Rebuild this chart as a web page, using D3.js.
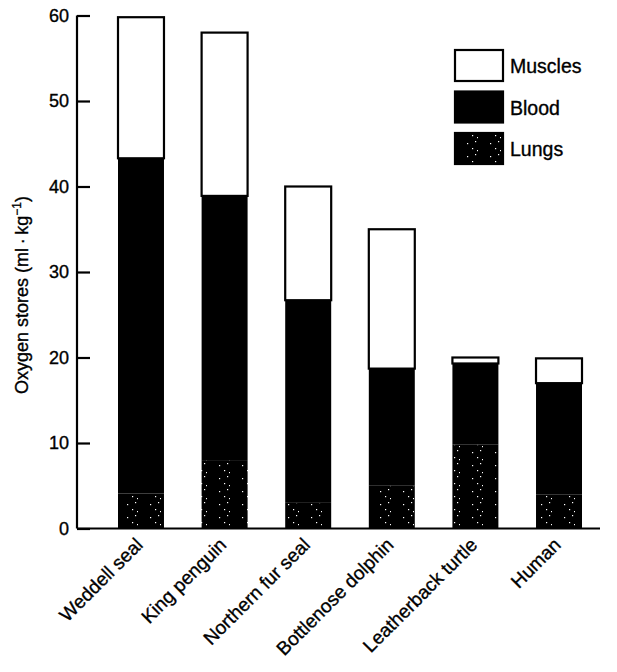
<!DOCTYPE html>
<html><head><meta charset="utf-8">
<script src="https://cdn.jsdelivr.net/npm/d3@7"></script>
<style>body{margin:0;background:#fff}svg{display:block}text{font-family:"Liberation Sans",Arial,Helvetica,sans-serif;fill:#000;stroke:#000;stroke-width:0.35px}</style>
</head><body><div id="chart"></div>
<script>
const categories = ["Weddell seal","King penguin","Northern fur seal","Bottlenose dolphin","Leatherback turtle","Human"];
const lungs   = [4.1, 8.0, 3.0, 5.0, 9.8, 4.0];
const blood   = [39.2, 30.9, 23.7, 13.7, 9.5, 13.0];
const muscles = [16.5, 19.1, 13.3, 16.3, 0.7, 2.9];
const seriesNames = ["Lungs","Blood","Muscles"];
const yTicks = [0,10,20,30,40,50,60];

const W = 617, H = 672;
const svg = d3.select("#chart").append("svg").attr("width", W).attr("height", H);
const defs = svg.append("defs");
const pat = defs.append("pattern").attr("id","dots").attr("patternUnits","userSpaceOnUse")
  .attr("width",23).attr("height",13);
pat.append("rect").attr("width",23).attr("height",13).attr("fill","#000");
[[17,2],[20,8],[12,10],[22,4]].forEach(([cx,cy])=>pat.append("rect").attr("x",cx).attr("y",cy).attr("width",1.2).attr("height",1.2).attr("fill","#fff"));

const x = d3.scaleBand().domain(categories).range([118, 582]).paddingInner(0.45).paddingOuter(0);
const y = d3.scaleLinear().domain([0, 60]).range([528.5, 15.5]);

const data = categories.map((c,i)=>({cat:c, Lungs:lungs[i], Blood:blood[i], Muscles:muscles[i]}));
const stacked = d3.stack().keys(seriesNames)(data);
const fills = {Lungs:"url(#dots)", Blood:"#000", Muscles:"#fff"};

stacked.forEach(layer=>{
  svg.append("g").selectAll("rect").data(layer).join("rect")
    .attr("x", d=>x(d.data.cat))
    .attr("y", d=>y(d[1]))
    .attr("width", x.bandwidth())
    .attr("height", d=>y(d[0])-y(d[1]))
    .attr("fill", fills[layer.key])
    .attr("stroke", layer.key==="Muscles" ? "#000" : "none")
    .attr("stroke-width", 2.2);
});

// Y axis
const yAxis = d3.axisRight(y).tickValues(yTicks).tickSize(13).tickFormat("");
const gy = svg.append("g").attr("transform","translate(77,0)").call(yAxis);
gy.select(".domain").attr("d", `M0,${y(60)}V${y(0)}`).attr("stroke","#000").attr("stroke-width",2.2);
gy.selectAll(".tick line").attr("stroke","#000").attr("stroke-width",2.2);
svg.append("g").selectAll("text").data(yTicks).join("text")
  .attr("x", 69).attr("y", d=>y(d)).attr("dy","0.36em")
  .attr("text-anchor","end").attr("font-size",18).text(d=>d);

// baseline
svg.append("line").attr("x1",77).attr("x2",600).attr("y1",y(0)).attr("y2",y(0))
  .attr("stroke","#000").attr("stroke-width",2.2);

// X labels
svg.append("g").selectAll("text").data(categories).join("text")
  .attr("text-anchor","end").attr("font-size",19)
  .attr("transform", d=>`translate(${x(d)+x.bandwidth()/2+3},546) rotate(-45)`)
  .text(d=>d);

// Y label
svg.append("text").attr("text-anchor","middle").attr("font-size",18)
  .attr("transform","translate(28,295) rotate(-90)")
  .html('Oxygen stores (ml\u2009\u00b7\u2009kg<tspan dy="-7" font-size="12">\u22121</tspan><tspan dy="7">)</tspan>');

// Legend
const legendItems = ["Muscles","Blood","Lungs"];
const ly = d3.scalePoint().domain(legendItems).range([50, 133]);
const lg = svg.append("g").selectAll("g").data(legendItems).join("g")
  .attr("transform", d=>`translate(455,${ly(d)})`);
lg.append("rect").attr("width",48).attr("height",31)
  .attr("fill", d=>fills[d]).attr("stroke","#000").attr("stroke-width",2.2);
lg.append("text").attr("x",55).attr("y",16).attr("dy","0.36em").attr("font-size",19.5).text(d=>d);
</script></body></html>
